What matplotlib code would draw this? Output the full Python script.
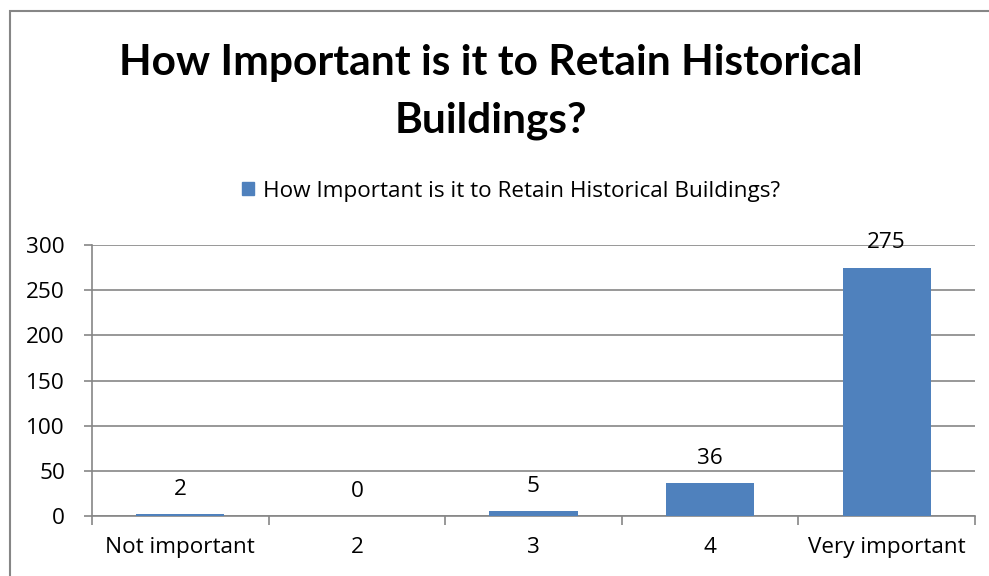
import matplotlib
matplotlib.use('Agg')
import matplotlib.pyplot as plt
from matplotlib.patches import Rectangle, Patch

# ── data ──────────────────────────────────────────────────────────────
categories = ['Not important', '2', '3', '4', 'Very important']
counts = [2, 0, 5, 36, 275]
title_lines = ['How Important is it to Retain Historical', 'Buildings?']
series_name = 'How Important is it to Retain Historical Buildings?'

BAR = '#4F81BD'
GRID = '#868686'
FS = 16.2
plt.rcParams['font.family'] = ['Open Sans', 'DejaVu Sans']

W, H = 989, 576
fig = plt.figure(figsize=(W / 100, H / 100), dpi=100)
ax = fig.add_axes([92 / W, 1 - 516 / H, (975 - 92) / W, (516 - 245) / H])

# chart-area outline (left + top visible)
fig.patches.append(Rectangle((9.5 / W, -0.1), 1.2, 1.1 - 10.5 / H,
                             transform=fig.transFigure, fill=False,
                             edgecolor=GRID, linewidth=1.5))

x = list(range(len(categories)))
ax.bar(x, counts, width=0.5, color=BAR, zorder=3)
for xi, v in zip(x, counts):
    ax.annotate(str(v), (xi, v), xytext=(0, 14), textcoords='offset points',
                ha='center', va='baseline', fontsize=FS, color='black')

ax.set_xlim(-0.5, 4.5)
ax.set_ylim(0, 300)
ax.set_yticks(range(0, 301, 50))
ax.set_xticks(x)
ax.set_xticklabels(categories)
ax.set_xticks([i - 0.5 for i in range(6)], minor=True)
ax.tick_params(axis='x', which='major', length=0, pad=15, labelsize=FS)
ax.tick_params(axis='x', which='minor', length=6.5, width=1.2, color=GRID)
ax.tick_params(axis='y', length=6, width=1.2, color=GRID, pad=13.5, labelsize=FS)

ax.grid(axis='y', color=GRID, linewidth=1.2, zorder=0)
for s in ['top', 'right']:
    ax.spines[s].set_visible(False)
for s in ['left', 'bottom']:
    ax.spines[s].set_color(GRID)
    ax.spines[s].set_linewidth(1.2)

for line, yb in zip(title_lines, [75, 132]):
    fig.text(0.4965, 1 - yb / H, line, ha='center', va='baseline',
             fontsize=30.6, fontweight='bold', family=['Lato', 'DejaVu Sans'])

fig.legend(handles=[Patch(color=BAR, label=series_name)],
           loc='center', bbox_to_anchor=(511 / W, 1 - 191 / H),
           frameon=False, fontsize=FS, handlelength=0.55, handleheight=0.55,
           handletextpad=0.4)

fig.savefig('out.png', dpi=100)
